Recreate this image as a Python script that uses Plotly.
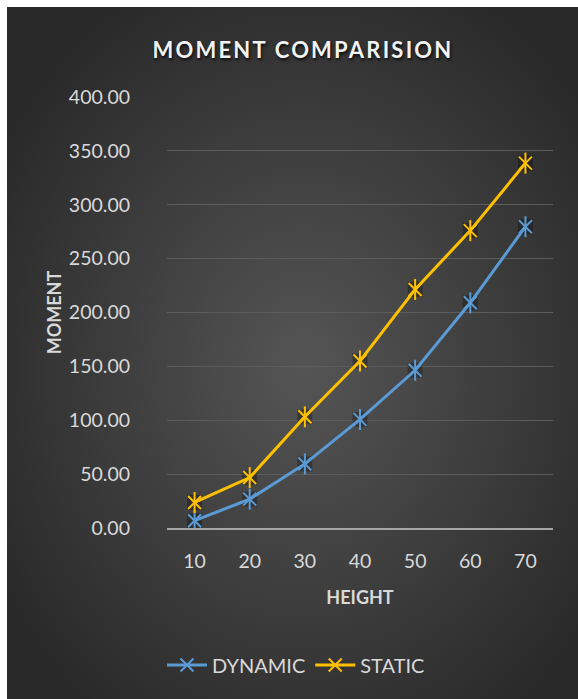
import base64
import plotly.graph_objects as go

heights = ["10", "20", "30", "40", "50", "60", "70"]
dynamic = [6.8, 26.8, 59.5, 100.8, 146.4, 209.0, 279.6]
static = [23.7, 46.8, 103.2, 155.0, 221.4, 276.0, 338.6]
y_ticks = [0, 50, 100, 150, 200, 250, 300, 350, 400]

BLUE = "#5B9BD5"
GOLD = "#FFC000"
TXT = "#D9D9D9"

# radial gradient background (Excel dark style)
svg = (
    '<svg xmlns="http://www.w3.org/2000/svg" width="571" height="692" viewBox="0 0 571 692" preserveAspectRatio="none">'
    '<defs><radialGradient id="g" cx="52%" cy="52%" r="62%">'
    '<stop offset="0%" stop-color="#555555"/>'
    '<stop offset="100%" stop-color="#292929"/>'
    '</radialGradient></defs>'
    '<rect x="0" y="0" width="571" height="692" fill="url(#g)"/></svg>'
)
bg_uri = "data:image/svg+xml;base64," + base64.b64encode(svg.encode()).decode()

L, R, T, B = 167, 25, 97, 171
W, H = 578, 699
pw, ph = W - L - R, H - T - B


def px_x(p):
    return (p - L) / pw


def px_y(p):
    return (H - B - p) / ph


fig = go.Figure()

for name, vals, col in [("DYNAMIC", dynamic, BLUE), ("STATIC", static, GOLD)]:
    # soft shadow behind markers
    fig.add_trace(go.Scatter(
        x=heights, y=vals, mode="markers", showlegend=False, hoverinfo="skip",
        marker=dict(symbol="square", size=15, color="rgba(0,0,0,0.28)"),
    ))
    fig.add_trace(go.Scatter(
        x=heights, y=vals, name=name, mode="lines+markers",
        line=dict(color=col, width=3),
        marker=dict(symbol="x-thin-open", size=13, color=col, line=dict(color=col, width=2)),
    ))
    fig.add_trace(go.Scatter(
        x=heights, y=vals, mode="markers", showlegend=False, hoverinfo="skip",
        marker=dict(symbol="line-ns-open", size=15, color=col, line=dict(color=col, width=2)),
    ))

fig.update_layout(
    width=W, height=H,
    margin=dict(l=L, r=R, t=T, b=B),
    paper_bgcolor="white",
    plot_bgcolor="rgba(0,0,0,0)",
    font=dict(family="Lato, sans-serif", color=TXT, size=19.5),
    title=dict(
        text='<span style="letter-spacing:2.2px">MOMENT COMPARISION</span>',
        x=px_x(303), xanchor="center", xref="paper",
        y=1 - 50 / H, yanchor="middle", yref="container",
        font=dict(family="Lato, sans-serif", size=22, color="#F2F2F2", weight="bold",
                  shadow="1px 2px 3px rgba(0,0,0,0.8)"),
    ),
    images=[dict(
        source=bg_uri, xref="paper", yref="paper",
        x=px_x(7), y=px_y(7), sizex=px_x(W) - px_x(7), sizey=px_y(7) - px_y(H),
        xanchor="left", yanchor="top", sizing="stretch", layer="below",
    )],
    xaxis=dict(
        type="category", range=[-0.5, 6.5],
        showgrid=False, zeroline=False,
        showline=True, linecolor="#A6A6A6", linewidth=2,
        ticks="", ticklabelstandoff=15,
        tickfont=dict(size=19.5, color=TXT),
        title=dict(text="HEIGHT", standoff=20, font=dict(size=18, color=TXT, weight="bold")),
    ),
    yaxis=dict(
        range=[0, 400], tickvals=y_ticks, tickformat=".2f",
        showgrid=True, gridcolor="#5C5C5C", gridwidth=1,
        zeroline=False, showline=False,
        ticks="", ticklabelstandoff=36,
        tickfont=dict(size=19.5, color=TXT),
        title=dict(text="MOMENT", standoff=2, font=dict(size=18, color=TXT, weight="bold")),
    ),
    legend=dict(
        orientation="h", x=px_x(296), xanchor="center", y=px_y(665), yanchor="middle",
        font=dict(size=20, color=TXT), bgcolor="rgba(0,0,0,0)",
        itemwidth=40,
    ),
)

fig.write_html("out.html")
